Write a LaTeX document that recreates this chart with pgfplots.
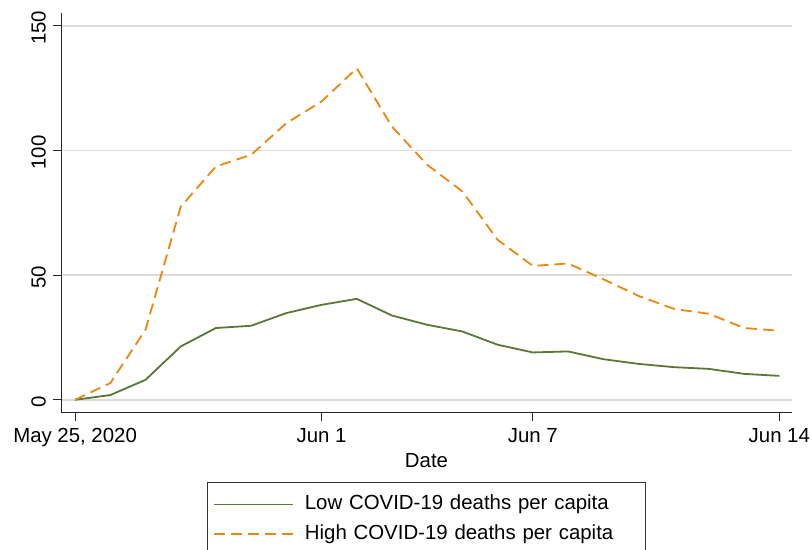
\documentclass[border=0pt]{standalone}
\usepackage{fontspec}
\setmainfont{Liberation Sans}
\usepackage{pgfplots}
\pgfplotsset{compat=1.18}
\definecolor{lowc}{RGB}{88,120,52}
\definecolor{highc}{RGB}{235,135,15}
\begin{document}
\begin{tikzpicture}
\begin{axis}[
  name=ax,
  scale only axis, width=365.5pt, height=200pt,
  xmin=-0.4, xmax=20.36, ymin=-5.3, ymax=155.2,
  axis lines*=left,
  axis line style={black!85, line width=0.5pt},
  xtick={0,7,13,20},
  xticklabels={{May 25, 2020},{Jun 1},{Jun 7},{Jun 14}},
  ytick={0,50,100,150},
  tick align=outside, major tick length=4pt,
  tick style={black!85, line width=0.5pt},
  ymajorgrids, grid style={black!14, line width=0.8pt},
  /pgf/number format/assume math mode=true,
  every tick label/.append style={font=\fontsize{10.2}{12}\selectfont},
  yticklabel style={rotate=90, anchor=south, xshift=-1pt},
  xlabel={Date},
  xlabel style={font=\fontsize{10.2}{12}\selectfont, yshift=3.5pt},
  legend style={at={(0.5,-0.1725)}, anchor=north, draw=black!80, line width=0.5pt,
    font=\fontsize{10.2}{12}\selectfont, inner xsep=3pt, inner ysep=3.5pt,
    nodes={inner xsep=2pt, inner ysep=2.75pt, text height=7.2pt, text depth=2.2pt},
    /tikz/every odd column/.append style={column sep=3.5pt},
    /tikz/every even column/.append style={text width=165.5pt}},
  legend cell align=left,
  legend image code/.code={\draw[#1] (0pt,0pt) -- (39.5pt,0pt);},
]
\addplot[lowc, line width=0.9pt] coordinates {
(0,0) (1,1.9) (2,8.0) (3,21.4) (4,28.8) (5,29.7) (6,34.8) (7,38.1) (8,40.5)
(9,33.8) (10,30.1) (11,27.4) (12,22.1) (13,19.0) (14,19.4) (15,16.3) (16,14.4)
(17,13.1) (18,12.4) (19,10.4) (20,9.6)};
\addlegendentry{Low COVID-19 deaths per capita}
\addplot[highc, line width=0.9pt, dash pattern=on 5.5pt off 3pt] coordinates {
(0,0) (1,6.7) (2,28.1) (3,77.5) (4,93.6) (5,98.3) (6,111) (7,119.7) (8,133)
(9,109.6) (10,94.3) (11,83.6) (12,64.2) (13,53.7) (14,54.7) (15,48.4) (16,41.7)
(17,36.5) (18,34.5) (19,28.8) (20,27.7)};
\addlegendentry{High COVID-19 deaths per capita}
\end{axis}
\pgfresetboundingbox
\path[use as bounding box] ([shift={(-30.5pt,-68.5pt)}]ax.south west) rectangle ++(406pt,275pt);
\end{tikzpicture}
\end{document}
